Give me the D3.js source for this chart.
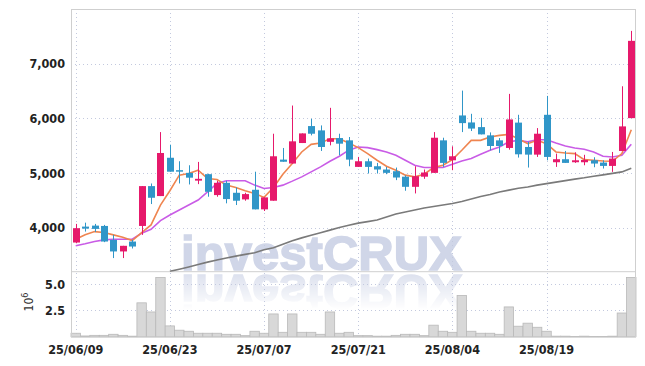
<!DOCTYPE html>
<html><head><meta charset="utf-8">
<script src="https://cdn.jsdelivr.net/npm/d3@7"></script>
<style>
body{margin:0;background:#fff;}
svg{display:block;font-family:"DejaVu Sans Condensed","DejaVu Sans",sans-serif;}
</style>
</head><body><svg id="c" width="645" height="366"></svg>
<script>
const dates = ["25/06/09","25/06/10","25/06/11","25/06/12","25/06/13","25/06/16","25/06/17","25/06/18","25/06/19","25/06/20",
"25/06/23","25/06/24","25/06/25","25/06/26","25/06/27","25/06/30","25/07/01","25/07/02","25/07/03","25/07/04",
"25/07/07","25/07/08","25/07/09","25/07/10","25/07/11","25/07/14","25/07/15","25/07/16","25/07/17","25/07/18",
"25/07/21","25/07/22","25/07/23","25/07/24","25/07/25","25/07/28","25/07/29","25/07/30","25/07/31","25/08/01",
"25/08/04","25/08/05","25/08/06","25/08/07","25/08/08","25/08/11","25/08/12","25/08/13","25/08/14","25/08/18",
"25/08/19","25/08/20","25/08/21","25/08/22","25/08/25","25/08/26","25/08/27","25/08/28","25/08/29","25/09/01"];
const openV  = [3733,4024,4042,4036,3782,3570,3751,4036,4764,4582, 5282,5055,5006,4864,4982,4600,4824,4642,4521,4697,
                4339,4497,5248,5176,5551,5861,5782,5573,5642,5600, 5115,5218,5127,5067,5036,4936,4751,4936,5006,5600,
                5236,6055,5927,5842,5691,5600,5461,5924,5479,5339, 6067,5200,5255,5200,5200,5236,5194,5133,5406,6006];
const highV  = [4073,4096,4073,4055,3873,3673,3782,4764,4812,5751, 5521,5218,5145,5206,4990,4860,4860,4739,4642,5027,
                4558,5721,5461,6236,5727,5994,5873,6194,5721,5661, 5297,5267,5188,5115,5103,4960,5127,5067,5751,5648,
                5491,6509,6085,6012,5745,5642,6449,6067,5573,5824, 6412,5358,5406,5382,5336,5291,5236,5388,6588,7600];
const lowV   = [3720,3933,3927,3740,3449,3449,3624,3873,4436,4582, 5027,4812,4794,4800,4570,4570,4449,4418,4497,4339,
                4309,4497,5209,5176,5551,5691,5406,5509,5327,5127, 5115,4994,4994,4982,4873,4679,4630,4897,5006,5115,
                5055,5751,5770,5709,5418,5370,5430,5285,5103,5297, 5236,5115,5188,5188,5145,5109,5085,5024,5406,6006];
const closeV = [3995,3987,3982,3751,3570,3673,3660,4764,4551,5369, 5027,5036,4918,4897,4660,4824,4527,4497,4618,4339,
                4558,5309,5209,5582,5727,5721,5479,5636,5539,5248, 5218,5115,5067,5006,4921,4751,4945,5012,5648,5188,
                5309,5915,5815,5709,5497,5497,5982,5345,5339,5721, 5297,5255,5188,5236,5242,5176,5133,5267,5855,7418];
const ma5 = [3794,3873,3933,3915,3873,3830,3770,3915,4055,4418, 4679,4964,4994,5055,4903,4885,4782,4739,4679,4630,
             4558,4739,4982,5176,5388,5527,5551,5630,5630,5551, 5467,5358,5236,5127,5055,4964,4933,4982,5103,5145,
             5248,5418,5600,5600,5661,5691,5709,5630,5539,5600, 5539,5388,5370,5358,5248,5236,5224,5218,5358,5794];
const ma20 = [3673,3709,3751,3782,3794,3794,3794,3903,3976,4133, 4236,4327,4418,4509,4660,4812,4861,4861,4861,4782,
              4721,4739,4782,4855,4933,5024,5115,5218,5309,5420, 5479,5467,5430,5388,5327,5236,5145,5103,5103,5103,
              5164,5224,5267,5345,5418,5479,5573,5600,5573,5612, 5612,5551,5497,5461,5436,5388,5309,5297,5327,5527];
const ma120 = [null,null,null,null,null,null,null,null,null,null,
              3206,3245,3287,3331,3375,3413,3449,3485,3516,3545,
              3600,3636,3700,3764,3818,3867,3913,3960,4009,4049,
              4087,4115,4145,4200,4255,4291,4327,4364,4391,4418,
              4445,4482,4527,4573,4609,4655,4691,4724,4749,4782,
              4809,4836,4864,4891,4916,4945,4969,4996,5024,5091];
const volume = [0.33,0.07,0.13,0.13,0.23,0.13,0.05,3.23,2.36,5.65, 1.03,0.62,0.52,0.33,0.33,0.33,0.23,0.23,0.10,0.52,
                0.33,2.17,0.42,2.17,0.42,0.42,0.23,2.36,0.33,0.42, 0.10,0.10,0.05,0.05,0.13,0.23,0.23,0.10,1.10,0.52,
                0.42,3.94,0.52,0.33,0.33,0.23,2.84,1.00,1.29,0.90, 0.52,0.05,0.05,0.02,0.05,0.02,0.02,0.05,2.26,5.65];
const priceTicks = [4000,5000,6000,7000];
const volTicks = [2.5,5.0];
const dateTicks = ["25/06/09","25/06/23","25/07/07","25/07/21","25/08/04","25/08/19"];

const UP = "#e6196b", DOWN = "#3096c8";
const L = 71, R = 636, T = 9, MB = 271.7, VB = 336.7;
const svg = d3.select("#c");

const x = d3.scaleBand().domain(dates).range([L, R]).padding(0);
const bw = x.bandwidth();
const cx = d => x(d) + bw / 2;
const y = d3.scaleLinear().domain([3200, 8000]).range([MB, T]);
const yv = d3.scaleLinear().domain([0, 6.2]).range([VB, MB]);

const defs = svg.append("defs");
defs.append("clipPath").attr("id","clipMain").append("rect").attr("x",L).attr("y",T).attr("width",R-L).attr("height",MB-T);
const grad = defs.append("linearGradient").attr("id","fade").attr("gradientUnits","userSpaceOnUse")
  .attr("x1",0).attr("y1",273).attr("x2",0).attr("y2",310);
grad.append("stop").attr("offset",0).attr("stop-color","#fff").attr("stop-opacity",0.75);
grad.append("stop").attr("offset",1).attr("stop-color","#fff").attr("stop-opacity",0);
defs.append("mask").attr("id","reflMask").attr("maskUnits","userSpaceOnUse")
  .attr("x",0).attr("y",0).attr("width",645).attr("height",366)
  .append("rect").attr("x",0).attr("y",272).attr("width",645).attr("height",60).attr("fill","url(#fade)");

// watermark
const wm = svg.append("g");
wm.append("text").attr("x",181).attr("y",270).attr("textLength",281).attr("lengthAdjust","spacingAndGlyphs")
  .style("font-family","'Liberation Sans',Arial,sans-serif").style("font-weight","bold").style("font-size","49px")
  .attr("fill","#d0d6e8").attr("stroke","#d0d6e8").attr("stroke-width",1.5).text("investCRUX");
wm.append("g").attr("mask","url(#reflMask)")
  .append("text").attr("transform","translate(0,545) scale(1,-1)")
  .attr("x",181).attr("y",270).attr("textLength",281).attr("lengthAdjust","spacingAndGlyphs")
  .style("font-family","'Liberation Sans',Arial,sans-serif").style("font-weight","bold").style("font-size","49px")
  .attr("fill","#d0d6e8").attr("stroke","#d0d6e8").attr("stroke-width",1.5).text("investCRUX");

// grids
const grid = svg.append("g").attr("stroke","#c3c9de").attr("stroke-dasharray","1,3").attr("stroke-width",1);
priceTicks.forEach(t => grid.append("line").attr("x1",L).attr("x2",R).attr("y1",Math.round(y(t))+0.5).attr("y2",Math.round(y(t))+0.5));
volTicks.forEach(t => grid.append("line").attr("x1",L).attr("x2",R).attr("y1",Math.round(yv(t))+0.5).attr("y2",Math.round(yv(t))+0.5));
dateTicks.forEach(t => grid.append("line").attr("x1",Math.round(cx(t))+0.5).attr("x2",Math.round(cx(t))+0.5).attr("y1",T).attr("y2",VB));

// volume bars
svg.append("g").selectAll("rect").data(dates).join("rect")
  .attr("x", d => x(d)).attr("width", bw)
  .attr("y", (d,i) => yv(volume[i])).attr("height", (d,i) => VB - yv(volume[i]))
  .attr("fill","#d8d8d8").attr("stroke","#b9b9b9").attr("stroke-width",0.8);

// frames
const fr = svg.append("g").attr("fill","none").attr("stroke","#cfcfcf").attr("stroke-width",1);
fr.append("rect").attr("x",L+0.5).attr("y",T+0.5).attr("width",R-L-1).attr("height",VB-T);
fr.append("line").attr("x1",L).attr("x2",R).attr("y1",MB).attr("y2",MB);

// MA lines
const main = svg.append("g").attr("clip-path","url(#clipMain)");
const line = arr => d3.line().defined((d,i)=>arr[i]!=null).x(d=>cx(d)).y((d,i)=>y(arr[i]))(dates);
main.append("path").attr("d",line(ma120)).attr("fill","none").attr("stroke","#7a7a7a").attr("stroke-width",1.6);
main.append("path").attr("d",line(ma20)).attr("fill","none").attr("stroke","#c95ce6").attr("stroke-width",1.6);
main.append("path").attr("d",line(ma5)).attr("fill","none").attr("stroke","#ef8550").attr("stroke-width",1.6);

// candles
const cg = main.append("g").selectAll("g").data(dates).join("g");
cg.append("line").attr("x1",d=>Math.round(cx(d))+0.5).attr("x2",d=>Math.round(cx(d))+0.5)
  .attr("y1",(d,i)=>y(highV[i])).attr("y2",(d,i)=>y(lowV[i]))
  .attr("stroke",(d,i)=>closeV[i]>=openV[i]?UP:DOWN).attr("stroke-width",1);
cg.append("rect").attr("x",d=>Math.round(cx(d))+0.5-3.5).attr("width",7)
  .attr("y",(d,i)=>y(Math.max(openV[i],closeV[i])))
  .attr("height",(d,i)=>Math.max(1.5, Math.abs(y(openV[i])-y(closeV[i]))))
  .attr("fill",(d,i)=>closeV[i]>=openV[i]?UP:DOWN);

// axes
const ya = svg.append("g").attr("transform",`translate(${L},0)`)
  .call(d3.axisLeft(y).tickValues(priceTicks).tickFormat(d3.format(",")).tickSize(0).tickPadding(6));
const yva = svg.append("g").attr("transform",`translate(${L},0)`)
  .call(d3.axisLeft(yv).tickValues(volTicks).tickFormat(d3.format(".1f")).tickSize(0).tickPadding(6));
const xa = svg.append("g").attr("transform",`translate(0,${VB})`)
  .call(d3.axisBottom(x).tickValues(dateTicks).tickSize(0).tickPadding(8));
[ya,yva,xa].forEach(g=>{
  g.select(".domain").remove();
  g.selectAll("text").style("font-family","'DejaVu Sans Condensed','DejaVu Sans',sans-serif")
   .style("font-size","12.5px").style("font-weight","bold").attr("fill","#222");
});

// 10^6 label
const lab = svg.append("text").attr("transform","translate(33,302) rotate(-90)").attr("text-anchor","middle")
  .style("font-size","12px").attr("fill","#333");
lab.append("tspan").text("10");
lab.append("tspan").attr("dy","-5").style("font-size","9px").text("6");
</script>
</body></html>
